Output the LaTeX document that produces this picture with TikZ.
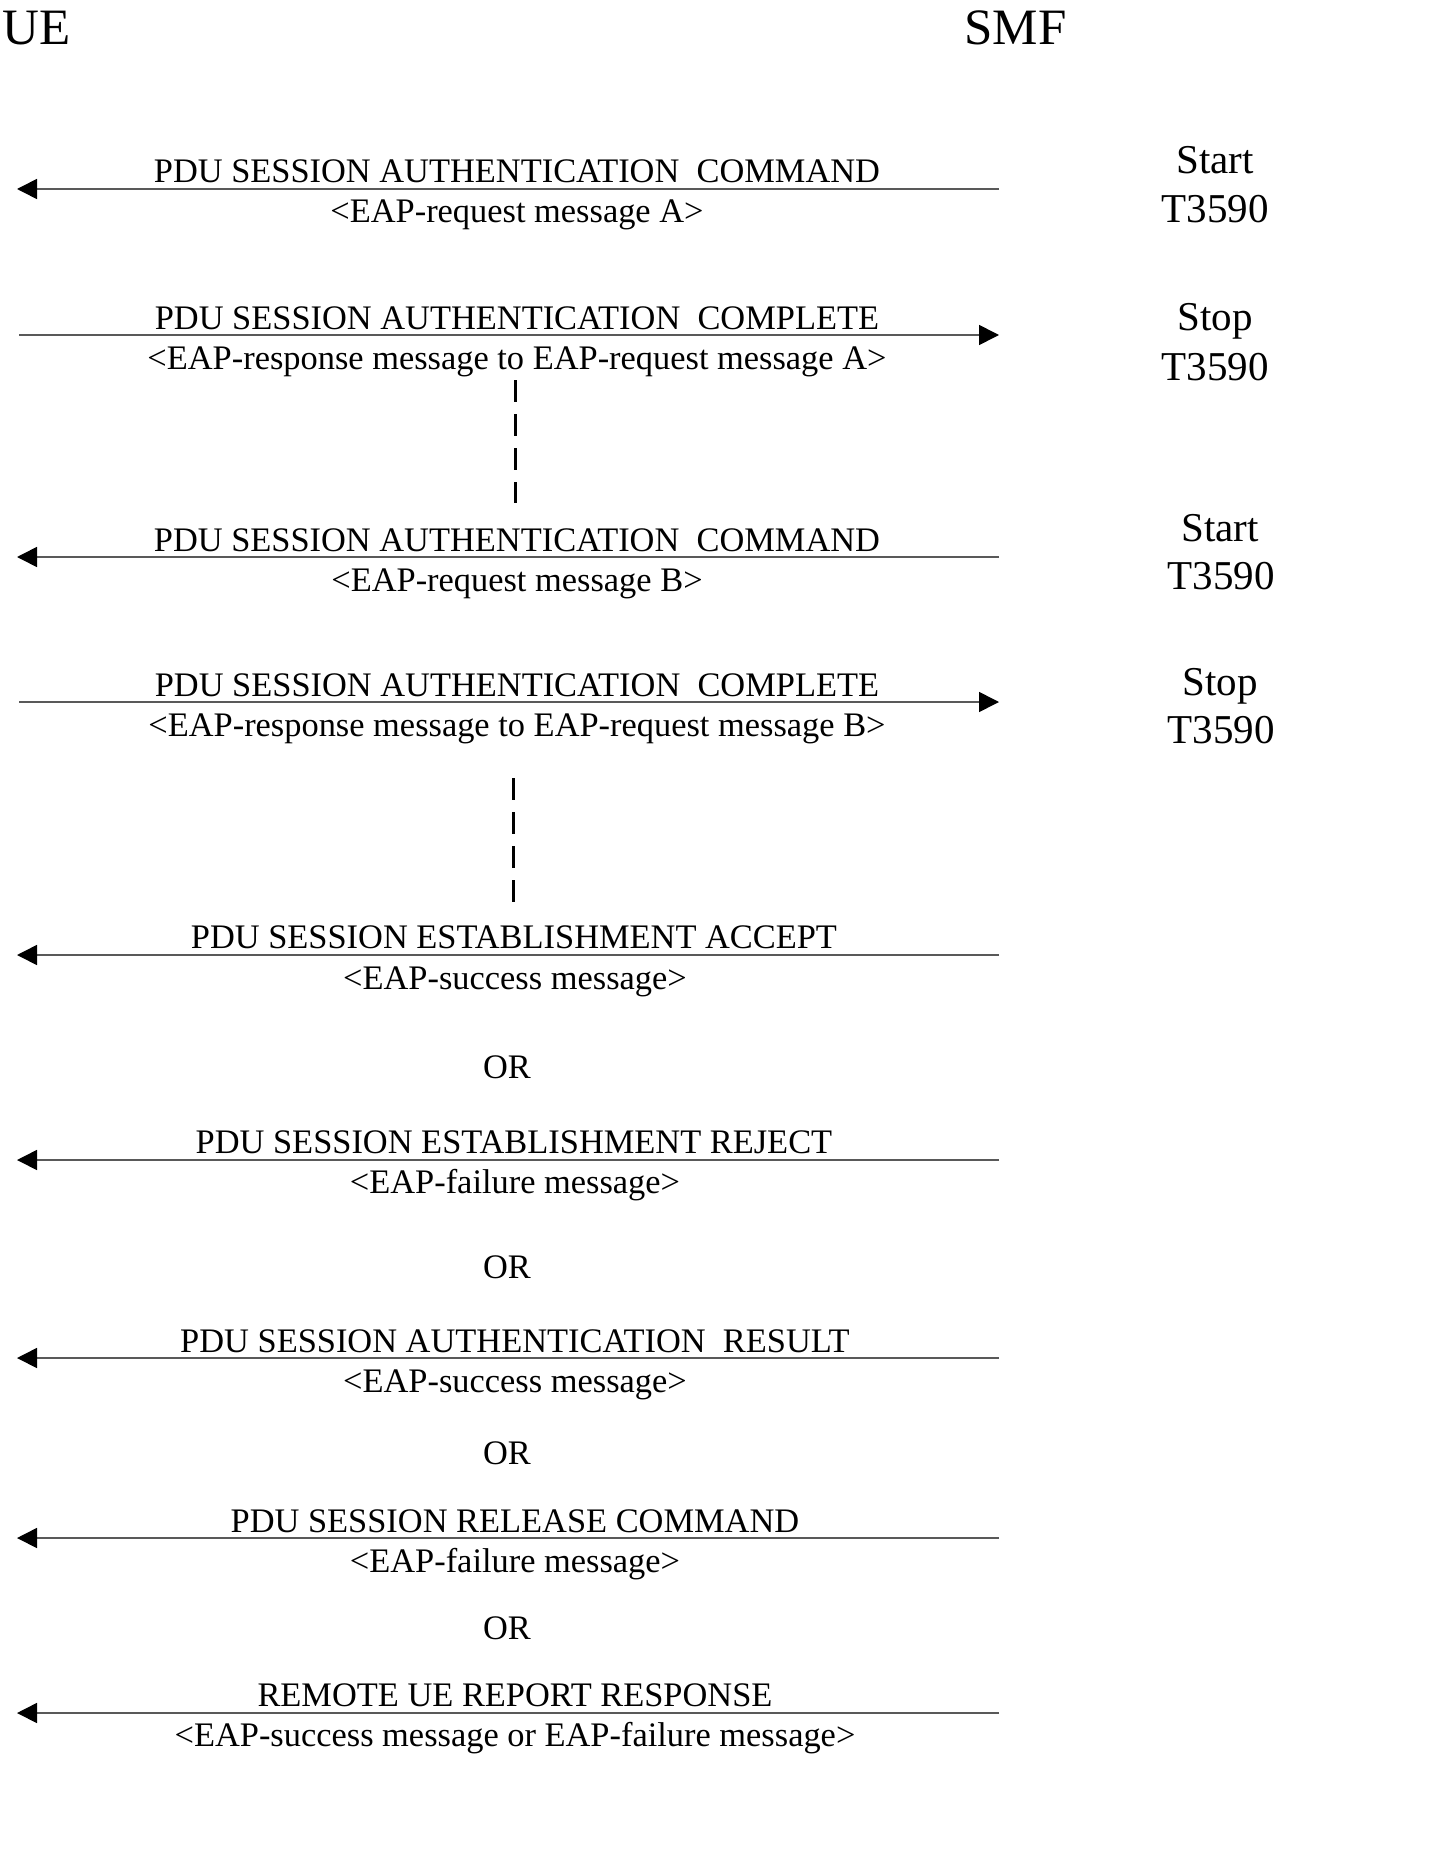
\documentclass[tikz,border=0pt]{standalone}
\usepackage{fontspec}
\setmainfont{Liberation Serif}
\usetikzlibrary{arrows.meta}
\begin{document}
\begin{tikzpicture}[x=0.5pt,y=-0.5pt,
  lbl/.style={anchor=base,inner sep=0pt,font=\fontsize{17.2}{20}\selectfont},
  tmr/.style={anchor=base,inner sep=0pt,font=\fontsize{20.5}{24}\selectfont},
  hdr/.style={anchor=base west,inner sep=0pt,font=\fontsize{25.5}{30}\selectfont},
  msg/.style={draw=black!65,line width=0.8pt,-{Triangle[length=10pt,width=10pt,color=black]}},
  dashline/.style={draw=black,line width=1.5pt,dash pattern=on 11pt off 6pt}]
\useasboundingbox (0,0) rectangle (1429,1862);

% headers
\node[hdr] (ue) at (2,45) {UE};
\node[hdr] (smf) at (964,45) {SMF};

% end points of the messages
\coordinate (r1) at (999,189);  \coordinate (l1) at (17,189);
\coordinate (l2) at (19,335);   \coordinate (r2) at (999,335);
\coordinate (r3) at (999,557);  \coordinate (l3) at (17,557);
\coordinate (l4) at (19,702);   \coordinate (r4) at (999,702);
\coordinate (r5) at (999,955);  \coordinate (l5) at (17,955);
\coordinate (r6) at (999,1160); \coordinate (l6) at (17,1160);
\coordinate (r7) at (999,1358); \coordinate (l7) at (17,1358);
\coordinate (r8) at (999,1538); \coordinate (l8) at (17,1538);
\coordinate (r9) at (999,1713); \coordinate (l9) at (17,1713);

\draw[msg] (r1) -- (l1);
\draw[msg] (l2) -- (r2);
\draw[msg] (r3) -- (l3);
\draw[msg] (l4) -- (r4);
\draw[msg] (r5) -- (l5);
\draw[msg] (r6) -- (l6);
\draw[msg] (r7) -- (l7);
\draw[msg] (r8) -- (l8);
\draw[msg] (r9) -- (l9);

% message labels
\node[lbl] (m1a) at (517,183) {PDU SESSION AUTHENTICATION\ \ COMMAND};
\node[lbl] (m1b) at (517,223) {<EAP-request message A>};
\node[lbl] (m2a) at (517,329) {PDU SESSION AUTHENTICATION\ \ COMPLETE};
\node[lbl] (m2b) at (517,369) {<EAP-response message to EAP-request message A>};
\node[lbl] (m3a) at (517,551) {PDU SESSION AUTHENTICATION\ \ COMMAND};
\node[lbl] (m3b) at (517,591) {<EAP-request message B>};
\node[lbl] (m4a) at (517,696) {PDU SESSION AUTHENTICATION\ \ COMPLETE};
\node[lbl] (m4b) at (517,736) {<EAP-response message to EAP-request message B>};
\node[lbl] (m5a) at (514,948) {PDU SESSION ESTABLISHMENT ACCEPT};
\node[lbl] (m5b) at (515,989) {<EAP-success message>};
\node[lbl] (m6a) at (514,1153) {PDU SESSION ESTABLISHMENT REJECT};
\node[lbl] (m6b) at (515,1193) {<EAP-failure message>};
\node[lbl] (m7a) at (515,1352) {PDU SESSION AUTHENTICATION\ \ RESULT};
\node[lbl] (m7b) at (515,1392) {<EAP-success message>};
\node[lbl] (m8a) at (515,1532) {PDU SESSION RELEASE COMMAND};
\node[lbl] (m8b) at (515,1572) {<EAP-failure message>};
\node[lbl] (m9a) at (515,1706) {REMOTE UE REPORT RESPONSE};
\node[lbl] (m9b) at (515,1746) {<EAP-success message or EAP-failure message>};

% OR separators
\node[lbl] (or1) at (507,1078) {OR};
\node[lbl] (or2) at (507,1278) {OR};
\node[lbl] (or3) at (507,1464) {OR};
\node[lbl] (or4) at (507,1639) {OR};

% timers
\node[tmr] (t1a) at (1215,174) {Start};
\node[tmr] (t1b) at (1215,223) {T3590};
\node[tmr] (t2a) at (1215,330) {Stop};
\node[tmr] (t2b) at (1215,380) {T3590};
\node[tmr] (t3a) at (1220,541) {Start};
\node[tmr] (t3b) at (1221,589) {T3590};
\node[tmr] (t4a) at (1220,695) {Stop};
\node[tmr] (t4b) at (1221,743) {T3590};

% continuation dashes
\coordinate (d1a) at (515,380); \coordinate (d1b) at (515,503);
\coordinate (d2a) at (513,778); \coordinate (d2b) at (513,902);
\draw[dashline] (d1a) -- (d1b);
\draw[dashline] (d2a) -- (d2b);
\end{tikzpicture}
\end{document}
